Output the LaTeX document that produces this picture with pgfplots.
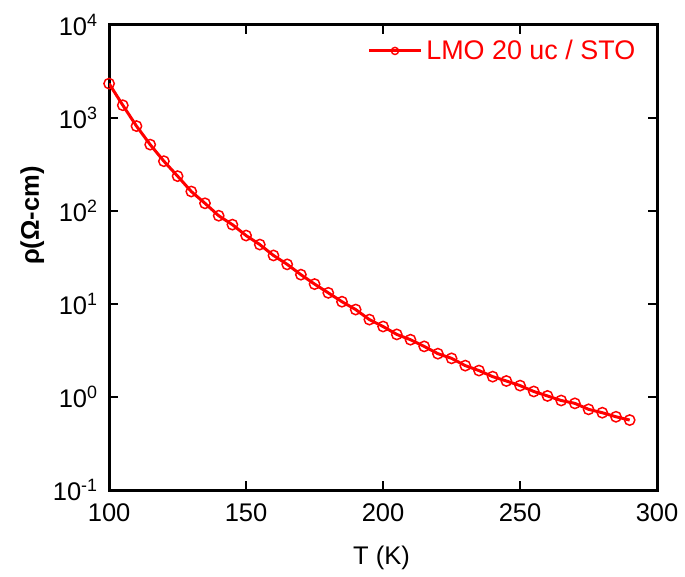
\documentclass[border=0pt]{standalone}
\usepackage{fontspec}
\setmainfont{Liberation Sans}
\usepackage{pgfplots}
\pgfplotsset{compat=1.18}
\begin{document}
\begin{tikzpicture}
\begin{axis}[
  scale only axis,
  width=275pt, height=233.5pt,
  xmin=100, xmax=300,
  ymode=log, ymin=0.1, ymax=10000,
  xtick={100,150,200,250,300},
  ytick={0.1,1,10,100,1000,10000},
  yticklabels={10\textsuperscript{-1},10\textsuperscript{0},10\textsuperscript{1},10\textsuperscript{2},10\textsuperscript{3},10\textsuperscript{4}},
  minor tick num=0,
  yminorticks=false,
  tick align=inside,
  tick pos=both,
  major tick length=4.5pt,
  axis line style={line width=1.5pt},
  every tick/.style={line width=1.2pt, black},
  /pgf/number format/assume math mode=true,
  tick label style={font=\fontsize{12.8}{15}\selectfont},
  xticklabel style={yshift=-3pt},
  yticklabel style={xshift=-2pt},
  label style={font=\fontsize{12.8}{15}\selectfont},
  xlabel={T (K)},
  ylabel={\textbf{ρ(Ω-cm)}},
  x label style={at={(axis description cs:0.497,0)}, anchor=center, yshift=-34pt},
  y label style={at={(axis description cs:-0.14,0.59)}, anchor=center},
  legend style={draw=none, fill=none, text=red, font=\fontsize{13.5}{16}\selectfont,
    at={(axis description cs:0.968,0.944)}, anchor=east, inner sep=0pt},
  legend cell align=left,
  legend image code/.code={
    \draw[mark repeat=2, mark phase=2, mark size=1.8pt, mark options={line width=0.7pt}]
      plot coordinates {(0pt,0pt)(13pt,0pt)(26pt,0pt)};
  },
]
\addplot[red, line width=1.5pt, mark=o, mark size=2.6pt, mark options={line width=0.75pt, solid}] coordinates {
(100,2340) (105,1370) (110,818) (115,517) (120,343) (125,237) (130,162) (135,121)
(140,89) (145,71.4) (150,54.5) (155,43.6) (160,33.3) (165,26.7) (170,20.7) (175,16.4)
(180,13.2) (185,10.6) (190,8.73) (195,6.81) (200,5.74) (205,4.72) (210,4.14) (215,3.51)
(220,2.93) (225,2.61) (230,2.18) (235,1.93) (240,1.66) (245,1.49) (250,1.33) (255,1.15)
(260,1.03) (265,0.92) (270,0.857) (275,0.739) (280,0.68) (285,0.615) (290,0.567)
};
\addlegendentry{LMO 20 uc / STO}
\end{axis}
\path ([xshift=-54.75pt,yshift=-42pt]current axis.south west) rectangle ([xshift=12.75pt,yshift=12.5pt]current axis.north east);
\end{tikzpicture}
\end{document}
